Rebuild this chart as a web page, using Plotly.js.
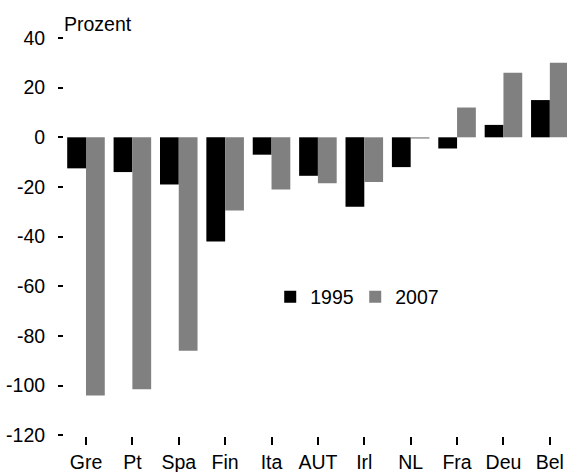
<!DOCTYPE html>
<html>
<head>
<meta charset="utf-8">
<script src="https://cdn.plot.ly/plotly-3.0.1.min.js"></script>
<style>html,body{margin:0;padding:0;background:#fff;}#chart{width:567px;height:472px;}</style>
</head>
<body>
<div id="chart"></div>
<script>
const categories = ["Gre", "Pt", "Spa", "Fin", "Ita", "AUT", "Irl", "NL", "Fra", "Deu", "Bel"];
const values1995 = [-12.5, -14, -19, -42, -7, -15.5, -28, -12, -4.5, 5, 15];
const values2007 = [-104, -101.5, -86, -29.5, -21, -18.5, -18, -0.5, 12, 26, 30];
const yTicks = [-120, -100, -80, -60, -40, -20, 0, 20, 40];

const FONT = "Liberation Sans, Arial, sans-serif";
const FS = 19.5;

const data = [
  {type: "bar", name: "1995", x: categories, y: values1995, marker: {color: "#000000", line: {width: 0}}},
  {type: "bar", name: "2007", x: categories, y: values2007, marker: {color: "#808080", line: {width: 0}}}
];

const layout = {
  width: 567, height: 472,
  margin: {l: 64, r: 0, t: 38, b: 36, pad: 0},
  paper_bgcolor: "#ffffff", plot_bgcolor: "#ffffff",
  font: {family: FONT, size: FS, color: "#000000"},
  barmode: "group", bargap: 0.19, bargroupgap: 0,
  showlegend: true,
  legend: {orientation: "h", x: 0.41, y: 0.349, xanchor: "left", yanchor: "middle",
           font: {family: FONT, size: FS, color: "#000"}, bgcolor: "rgba(0,0,0,0)",
           itemwidth: 30, entrywidth: 40, entrywidthmode: "pixels", tracegroupgap: 0},
  xaxis: {type: "category", range: [-0.474, 10.37], showgrid: false, zeroline: false, showline: false,
          ticks: "outside", ticklen: 8, tickwidth: 2, tickcolor: "#000",
          ticklabelstandoff: 1,
          tickfont: {family: FONT, size: FS, color: "#000"}, fixedrange: true},
  yaxis: {range: [-120.3, 40], tickvals: yTicks, ticktext: yTicks.map(String),
          showgrid: false, zeroline: false, showline: false,
          ticks: "outside", ticklen: 5, tickwidth: 2, tickcolor: "#000",
          ticklabelstandoff: 9,
          tickfont: {family: FONT, size: FS, color: "#000"}, fixedrange: true},
  annotations: [{text: "Prozent", xref: "paper", yref: "paper", x: 0, y: 1, xanchor: "left", yanchor: "bottom",
                 xshift: -2, yshift: 1, showarrow: false, font: {family: FONT, size: FS, color: "#000"}}]
};

Plotly.newPlot("chart", data, layout, {displayModeBar: false, staticPlot: true});
</script>
</body>
</html>
